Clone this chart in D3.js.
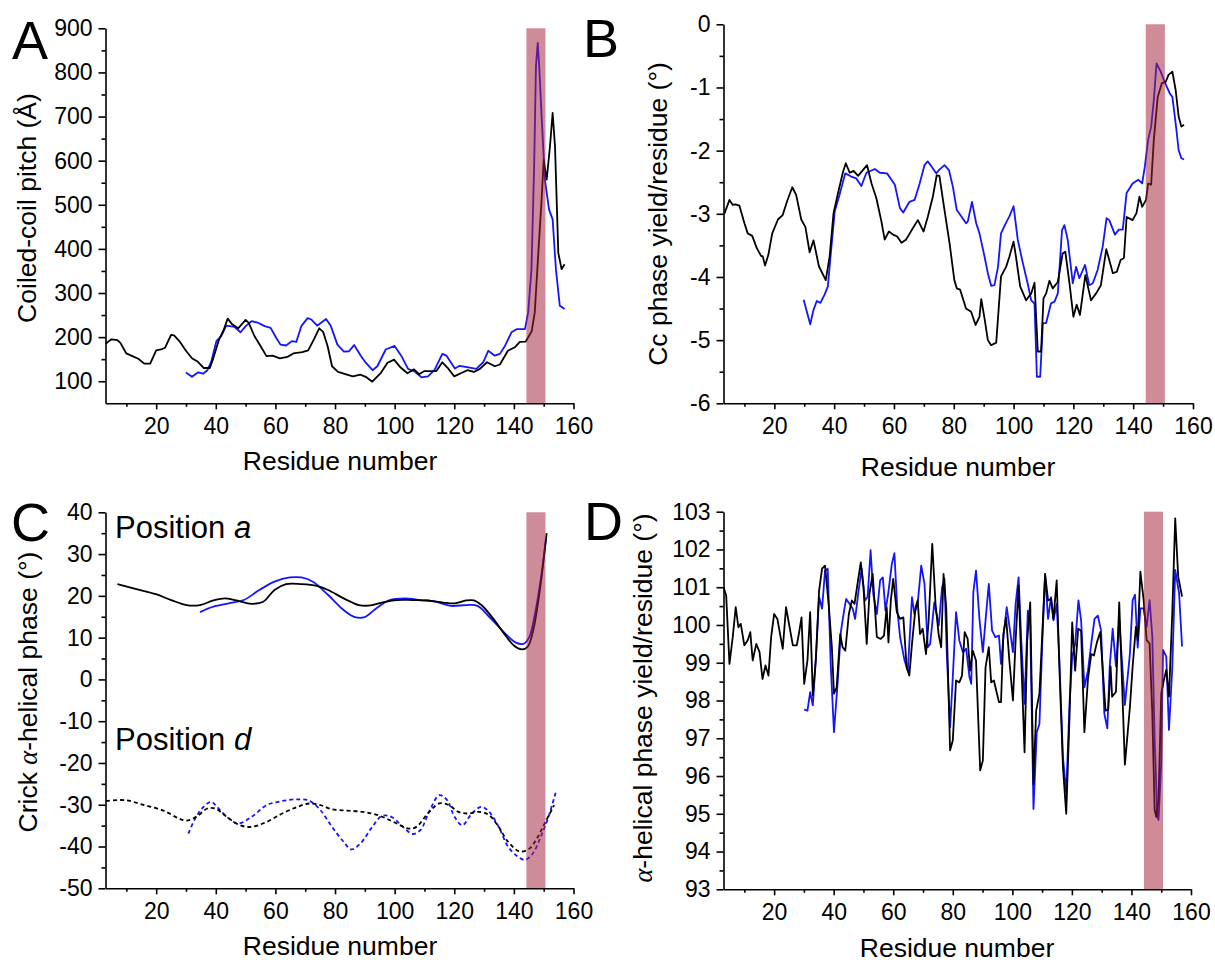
<!DOCTYPE html>
<html>
<head>
	<meta charset="utf-8">
	<style>
		body {
			margin: 0;
			background-color: white;
		}
		svg {
			display: block;
			font-family: "Liberation Sans", Arial, sans-serif;
		}
		.axis path, .axis line {
			stroke: #000;
			stroke-width: 1.6px;
		}
		.axis text {
			font-family: "Liberation Sans", Arial, sans-serif;
			font-size: 23px;
			fill: #000;
		}
		.line {
			fill: none;
			stroke-width: 1.8px;
			stroke-linejoin: round;
		}
		.black { stroke: #000; }
		.blue { stroke: #1414ff; }
		.dashed { stroke-dasharray: 4,3; }
		.band {
			fill: #a3213a;
			opacity: 0.52;
		}
		.title {
			font-size: 26.5px;
			text-anchor: middle;
		}
		.letter {
			font-size: 54px;
		}
		.pos-label {
			font-size: 31px;
		}
		.greek {
			font-family: "Liberation Serif", serif;
			font-style: italic;
		}
	</style>
</head>
<body>
<script src="https://d3js.org/d3.v7.min.js"></script>

<script>
	// shared x axis
	var residueDomain = [3, 160];
	var residueTicks = [20, 40, 60, 80, 100, 120, 140, 160];
	var residueMinor = [10, 30, 50, 70, 90, 110, 130, 150];
	// shaded region (residues)
	var band = [144.2, 150.6];

	// A: coiled-coil pitch
	var pitchTicks = [100, 200, 300, 400, 500, 600, 700, 800, 900];
	var pitchMinor = [150, 250, 350, 450, 550, 650, 750, 850];
	var pitchBlack = [[3,185],[5,195],[7,193],[8,187],[10,163],[12,157],[14,151],[16,140],[18,140],[20,170],[22,173],[23,176],[25,205],[26,204],[28,189],[30,169],[32,152],[34,144],[36,130],[38,130],[39,149],[41,193],[42.5,214],[44,242],[45.5,229],[47.5,220],[50,239],[51,233],[53,202],[55,180],[57,157],[59,158],[61.5,152],[64,155],[66,163],[69,166],[71,170],[73,196],[74.7,220],[76,212],[77.5,180],[79,134],[81,121],[84,115],[86,111],[88.5,115],[90.3,110],[92.5,99],[95.4,119],[97.6,142],[99.8,149],[102,131],[104.3,118],[106.5,127],[108.2,116],[110,123],[114,123],[116,143],[117.7,131],[120,111],[122.2,118],[124.4,125],[126.6,121],[128.6,128],[131,143],[133.6,134],[135.3,138],[138,169],[140.3,177],[142,189],[144,190],[146,214],[147,256],[148.2,391],[149.3,512],[150,602],[151,557],[152.1,632],[153,708],[153.8,632],[154.9,391],[156,354],[157,365]];
	var pitchBlue = [[30,120],[32,110],[34,120],[35.7,117],[37.2,125],[38.5,145],[40.2,191],[41.8,202],[43.5,226],[46.3,223],[48.3,211],[50.2,226],[52,236],[54,233],[56.4,225],[58.4,221],[60.3,198],[61.7,183],[63.6,181],[65.5,191],[67,189],[68.7,225],[70.8,243],[72,240],[74,226],[77,241],[78.6,225],[80.8,183],[83,167],[84.7,168],[86.4,182],[88.7,157],[90.3,142],[92.6,125],[94.2,134],[97,172],[100,180],[102.2,158],[104.5,128],[106.7,122],[109,109],[111.2,111],[113.4,126],[116,162],[117.4,158],[120.2,129],[121.8,135],[125.2,131],[127.4,128],[129.7,143],[131.4,169],[133.6,158],[135.3,162],[137,180],[139.2,211],[140.9,218],[143.7,218],[144.8,256],[145.9,354],[146.8,587],[147.4,813],[148,867],[148.5,813],[149.3,700],[150.4,557],[151.8,489],[153,467],[154.1,354],[155.4,271],[157,264]];

	// B: Cc phase yield per residue
	var ccTicks = [-6, -5, -4, -3, -2, -1, 0];
	var ccMinor = [-5.5, -4.5, -3.5, -2.5, -1.5, -0.5];
	var ccBlack = [[3.3,-3.0],[5,-2.78],[6.1,-2.86],[7,-2.85],[8.3,-2.87],[10,-3.15],[11.1,-3.31],[12.6,-3.35],[14.1,-3.54],[15.6,-3.67],[16.1,-3.67],[16.9,-3.82],[18,-3.65],[19.3,-3.31],[21.2,-3.09],[22.8,-3.02],[24.2,-2.81],[26,-2.58],[27.3,-2.7],[29,-3.09],[30.4,-3.21],[31.8,-3.61],[33.1,-3.42],[34.9,-3.83],[37.2,-4.05],[38.5,-3.67],[39.8,-2.99],[41.3,-2.67],[43,-2.33],[43.9,-2.2],[45.2,-2.35],[46.5,-2.32],[48,-2.4],[49.4,-2.32],[51,-2.23],[52.5,-2.52],[54.1,-2.75],[55.8,-3.12],[56.9,-3.41],[58.3,-3.28],[59.7,-3.33],[61.1,-3.36],[62.5,-3.46],[64,-3.41],[65.3,-3.31],[66.3,-3.23],[68,-3.1],[69.9,-3.28],[71.3,-3.05],[73,-2.73],[74.3,-2.39],[75.2,-2.4],[76.9,-2.94],[78.6,-3.47],[80.2,-4.05],[81,-4.18],[82.1,-4.2],[84.1,-4.5],[85.8,-4.55],[87.3,-4.76],[88.6,-4.63],[89.2,-4.35],[90.3,-4.66],[91.4,-5.0],[92.5,-5.08],[94.2,-5.04],[95.8,-3.99],[97.5,-3.84],[98.6,-3.68],[100,-3.44],[100.8,-3.68],[102.2,-4.15],[104.2,-4.37],[105.9,-4.26],[107,-4.09],[108.1,-5.18],[109.2,-5.18],[110,-4.34],[110.9,-4.26],[112,-4.06],[113.1,-4.18],[114.8,-4.08],[116.4,-3.63],[117.3,-3.6],[118.7,-4.1],[120,-4.63],[121.1,-4.44],[122.2,-4.6],[124,-3.97],[125.9,-4.37],[127.6,-4.26],[129.2,-4.13],[131,-3.56],[133.2,-3.94],[134.5,-3.92],[135.8,-3.73],[136.9,-3.7],[137.8,-3.05],[139.8,-3.1],[141.1,-2.99],[142.1,-2.73],[143,-2.89],[144.3,-2.78],[145,-2.52],[146,-2.54],[146.9,-1.83],[148.2,-1.15],[149.6,-0.93],[150.9,-0.91],[151.8,-0.8],[153.1,-0.75],[154.2,-1.04],[155.2,-1.46],[156.1,-1.62],[157,-1.59]];
	var ccBlue = [[29.8,-4.36],[32,-4.75],[33.1,-4.52],[34.2,-4.38],[35.4,-4.41],[36.8,-4.28],[37.9,-4.15],[39,-3.57],[40.2,-2.96],[41.8,-2.7],[43.7,-2.36],[45.7,-2.41],[47.4,-2.44],[49.1,-2.56],[50.8,-2.35],[53.6,-2.29],[55.3,-2.35],[57.7,-2.36],[60.3,-2.54],[62,-2.91],[63.1,-2.98],[65.2,-2.81],[66.9,-2.78],[68.6,-2.52],[70.2,-2.23],[71.3,-2.17],[72.4,-2.24],[74.1,-2.36],[75.2,-2.3],[76.9,-2.23],[78.4,-2.31],[79.7,-2.57],[81,-2.94],[82.5,-3.04],[84.1,-3.15],[84.7,-3.12],[86.1,-2.81],[87.5,-3.15],[88.6,-3.31],[90.3,-3.68],[91.4,-3.94],[92.5,-4.14],[93.6,-4.13],[94.8,-3.84],[95.8,-3.31],[97.5,-3.14],[98.6,-3.04],[100,-2.88],[101.4,-3.41],[103.1,-3.78],[104.7,-4.1],[105.9,-4.37],[107,-4.42],[107.8,-5.58],[108.9,-5.58],[109.8,-4.73],[110.9,-4.73],[112.5,-4.42],[113.7,-4.39],[114.8,-4.26],[116.2,-3.26],[117,-3.18],[118.1,-3.41],[119.8,-4.1],[120.9,-3.84],[122,-4.02],[123.9,-3.81],[125.3,-4.13],[126.5,-4.1],[128.1,-3.89],[129.8,-3.52],[131.1,-3.07],[132,-3.1],[133.9,-3.33],[135.2,-3.25],[136.5,-3.25],[137.8,-2.67],[139.8,-2.52],[141.7,-2.46],[143,-2.52],[143.9,-2.25],[145,-1.83],[146,-1.62],[146.9,-1.2],[147.8,-0.62],[149.2,-0.75],[150.5,-0.91],[152.2,-1.09],[153.1,-1.15],[154.2,-1.57],[155.2,-1.99],[156.1,-2.12],[157,-2.14]];

	// C: Crick alpha-helical phase, positions a (solid) and d (dashed)
	var crickTicks = [-50, -40, -30, -20, -10, 0, 10, 20, 30, 40];
	var crickMinor = [-45, -35, -25, -15, -5, 5, 15, 25, 35];
	var phaseABlack = [[7,22.8],[13.4,21.6],[19.9,20.4],[25,19.0],[30.2,17.8],[34.7,17.8],[39.2,18.9],[43,19.4],[46.9,18.9],[52,18.1],[55.9,18.6],[59.7,21.4],[63.6,22.8],[68.7,22.8],[73.9,22.4],[77.7,21.4],[82.9,19.4],[88,17.8],[91.9,17.7],[95.7,18.4],[100.8,19.0],[106,19.0],[111.1,18.9],[116.3,18.4],[120.1,18.2],[124,18.9],[126.6,18.9],[129.1,17.8],[133,14.6],[136.8,10.9],[140,8.1],[142.6,7.2],[144.6,7.8],[146.5,11.8],[148.4,19.8],[149.7,27],[151,35]];
	var phaseABlue = [[34.7,16.1],[39.2,17.4],[44.3,18.2],[49.4,19.0],[54.6,21.4],[59.7,23.4],[64.8,24.4],[68.7,24.4],[72.6,23.4],[77.7,20.2],[82.9,16.6],[86.7,14.9],[89.9,14.9],[93.8,17.0],[98.3,19.0],[103.4,19.4],[108.6,19.0],[113.7,18.6],[118.8,17.6],[124,17.8],[127.8,17.6],[131.7,15.0],[136.8,11.2],[140.7,8.8],[143.2,8.5],[145.2,10.2],[147.1,15.8],[149,23.8],[150.7,33.4]];
	var phaseDBlack = [[3.2,-29.1],[9.6,-28.9],[16,-30.1],[22.4,-31.4],[27.6,-33.3],[30.2,-33.8],[33.4,-32.9],[37.2,-30.9],[39.8,-30.9],[43.7,-32.9],[48.1,-34.9],[52,-35.3],[57.1,-34.1],[62.3,-32.1],[67.4,-30.5],[71.3,-29.7],[75.1,-30.1],[79,-31.1],[84.1,-31.4],[89.3,-31.7],[94.4,-32.5],[99.6,-34.1],[104.7,-35.7],[107.3,-35.3],[111.1,-32.1],[115,-29.7],[118.2,-30.1],[121.4,-31.7],[124.6,-32.1],[128.5,-31.7],[131.7,-32.5],[134.9,-35.3],[138.1,-38.9],[142,-41.2],[145.2,-40.5],[147.7,-38.1],[150.3,-34.5],[153.5,-30.1]];
	var phaseDBlue = [[30.8,-36.9],[33.4,-32.9],[35.9,-30.5],[38.5,-29.3],[40.4,-30.5],[43.7,-32.9],[47.5,-34.5],[52,-32.9],[57.1,-30.1],[62.3,-29.1],[67.4,-28.7],[71.3,-29.0],[75.1,-31.3],[79,-35.3],[82.9,-38.9],[85.5,-40.7],[88.6,-39.2],[92.5,-35.3],[95.7,-32.7],[98.9,-32.9],[102.8,-35.3],[106,-37.0],[108.6,-36.1],[111.8,-31.3],[115,-27.7],[117.6,-28.9],[120.1,-32.9],[122.7,-34.9],[125.9,-32.1],[129.1,-30.5],[131.7,-31.7],[134.9,-35.3],[138.1,-40.1],[141.3,-42.4],[143.8,-43.2],[146.4,-41.6],[149,-37.7],[151.6,-32.9],[154.1,-26.9]];

	// D: alpha-helical phase yield per residue
	var helixTicks = [93, 94, 95, 96, 97, 98, 99, 100, 101, 102, 103];
	var helixMinor = [93.5, 94.5, 95.5, 96.5, 97.5, 98.5, 99.5, 100.5, 101.5, 102.5];
	var helixBlack = [[3,101.0],[3.9,100.78],[5,98.97],[6.1,99.68],[7.1,100.47],[8,99.94],[8.8,100.03],[10,99.46],[11.1,99.59],[12,99.81],[12.8,99.06],[14,99.5],[15.1,99.28],[16.1,98.57],[17.1,98.93],[18.1,98.66],[19,99.68],[20,100.29],[21.1,100.16],[22,99.76],[22.9,99.37],[24,100.47],[25,100.03],[26.3,99.46],[27.6,99.46],[28.3,99.76],[29.2,100.2],[30.1,98.44],[31.2,99.06],[32.1,100.34],[33,98.13],[34,99.06],[35.1,100.91],[36.1,101.49],[37.1,101.57],[38.3,100.56],[39.4,99.41],[40.1,98.18],[41,98.35],[42.2,99.76],[43,99.41],[43.9,99.32],[45.1,100.29],[46.1,100.65],[47,100.56],[48,101.09],[49.1,101.66],[50,101.0],[51.1,99.5],[52,100.82],[53.1,101.35],[54.5,99.68],[55.8,99.63],[56.9,99.72],[57.8,100.47],[58.4,99.54],[59.2,100.65],[60,101.22],[61.2,100.34],[62.3,100.16],[63.4,100.2],[64.5,98.88],[65.4,98.66],[66.3,99.5],[67.5,100.47],[68.2,100.65],[69,99.76],[69.9,99.9],[71,99.23],[71.9,100.12],[73.1,102.15],[74.2,100.56],[75.3,99.72],[76.1,99.41],[76.9,101.35],[77.8,100.47],[79.1,96.68],[80,96.94],[81.1,98.53],[82.2,98.48],[83.1,98.66],[84,99.81],[85,99.63],[85.8,98.79],[86.7,99.32],[87.8,99.06],[89.2,96.15],[90.1,96.41],[91,98.88],[92.1,99.41],[92.9,98.48],[93.8,98.53],[94.6,98.26],[95.5,97.96],[96.2,97.96],[97,99.76],[97.9,100.2],[99,99.06],[100.2,98.0],[101.1,99.59],[102.1,101.04],[103,99.06],[104.1,96.63],[105,99.59],[106,100.6],[107.1,95.79],[108,97.73],[109.1,98.18],[110,99.68],[111,101.35],[112,100.65],[113,100.69],[113.8,100.16],[114.9,101.18],[115.8,98.88],[117,96.23],[118.1,95.0],[119.2,97.56],[120.1,100.07],[121.1,98.79],[122.1,99.9],[123.1,99.85],[124.2,97.16],[125.4,98.57],[126.5,99.23],[127.4,99.19],[128.4,99.54],[129.5,99.81],[130.4,98.79],[131.3,97.73],[132.2,97.75],[133,98.9],[133.5,98.1],[134.8,98.23],[135.9,100.6],[137.8,96.3],[139.5,97.84],[140.4,98.9],[141.5,99.95],[142.1,99.6],[143,101.41],[144.1,100.66],[145.1,99.6],[146.1,99.51],[147,97.66],[147.8,95.1],[148.3,94.92],[149.1,95.37],[150,98.19],[150.9,98.54],[151.7,98.81],[152.6,98.1],[153.7,100.3],[154.7,102.82],[155.7,101.28],[157,100.75]];
	var helixBlue = [[30.1,97.76],[31.2,97.73],[32.1,98.22],[33,97.87],[34.1,99.23],[35.1,100.74],[36.1,100.43],[37.1,101.44],[38,101.49],[39,98.97],[40.1,97.16],[41.3,98.44],[42.4,99.81],[43.5,100.38],[44.2,100.69],[45.3,100.56],[46.4,100.43],[47.2,100.16],[48.3,100.87],[49.4,101.49],[50.5,100.65],[51.4,100.74],[52.4,101.98],[53.3,100.82],[54.5,100.29],[55.6,101.18],[56.5,101.26],[57.4,100.38],[58.3,100.82],[59.5,101.6],[60.4,101.9],[61.4,100.38],[62.3,99.68],[63.8,99.06],[64.9,98.79],[66.3,100.74],[67.1,100.29],[68.2,100.56],[69.4,101.57],[70.5,101.09],[71.6,99.41],[72.4,99.5],[73.8,100.6],[75.3,99.99],[76.4,101.0],[77.2,101.22],[78,99.23],[79.1,97.29],[80,98.62],[81.1,100.34],[82.2,99.59],[83.4,99.28],[84.5,99.37],[85.6,98.62],[86.2,98.44],[86.9,100.87],[87.8,101.44],[89,100.12],[90.1,99.28],[91,100.12],[92.1,101.09],[93.2,99.85],[94.3,99.68],[95.5,99.72],[96.2,98.97],[97.1,99.76],[98.1,100.47],[99.3,99.81],[100.2,99.28],[101.1,100.56],[102.1,101.26],[103,99.59],[104.1,97.91],[105.2,100.38],[106,100.03],[107.1,95.13],[108.2,97.16],[109.1,97.38],[110,99.41],[111,101.35],[112,100.16],[113,100.74],[113.8,100.12],[114.9,100.56],[115.8,99.06],[117,96.5],[118.1,95.53],[119.2,97.91],[120.1,99.15],[121.1,99.5],[122.2,100.65],[123.1,100.12],[124.2,98.35],[125.4,98.79],[126.5,99.5],[127.6,100.16],[128.7,100.25],[129.8,99.85],[130.9,97.65],[131.9,97.26],[132.7,98.9],[133.7,99.9],[134.8,98.9],[135.9,100.13],[137.8,97.88],[139.5,99.25],[140.4,100.66],[141.2,100.8],[142.1,99.4],[143,100.44],[144.1,100.44],[145.1,99.95],[146.1,100.66],[147,99.7],[147.8,96.95],[148.7,94.92],[149.1,94.84],[150,96.34],[150.6,99.34],[151.7,99.16],[152.6,97.22],[153.7,98.85],[154.7,101.46],[156,100.84],[157,99.43]];

	var svg = d3.select("body").append("svg")
		.attr("width", 1215)
		.attr("height", 963);

	var panels = [
		{letter: "A", lx: 12, ly: 59, left: 105.5, right: 573.5, top: 28.3, bottom: 403.3,
			yDomain: [50, 900], yTicks: pitchTicks, yMinor: pitchMinor, curve: d3.curveLinear,
			series: [{data: pitchBlue, cls: "blue"}, {data: pitchBlack, cls: "black"}],
			xTitle: [340, 470], yTitle: [36, 208], yText: [["Coiled-coil pitch (Å)", false]]},
		{letter: "B", lx: 583, ly: 57, left: 723.5, right: 1193, top: 24.3, bottom: 403.3,
			yDomain: [-6, 0], yTicks: ccTicks, yMinor: ccMinor, curve: d3.curveLinear,
			series: [{data: ccBlue, cls: "blue"}, {data: ccBlack, cls: "black"}],
			xTitle: [958, 476], yTitle: [667, 214], yText: [["Cc phase yield/residue (°)", false]]},
		{letter: "C", lx: 11, ly: 541, left: 105.5, right: 573.5, top: 512.3, bottom: 888.3,
			yDomain: [-50, 40], yTicks: crickTicks, yMinor: crickMinor, curve: d3.curveCatmullRom,
			series: [{data: phaseABlue, cls: "blue"}, {data: phaseABlack, cls: "black"},
				{data: phaseDBlue, cls: "blue dashed"}, {data: phaseDBlack, cls: "black dashed"}],
			xTitle: [340, 955], yTitle: [37, 692], yText: [["Crick ", false], ["α", true], ["-helical phase (°)", false]]},
		{letter: "D", lx: 584, ly: 540, left: 723.5, right: 1191, top: 511.7, bottom: 889.3,
			yDomain: [93, 103], yTicks: helixTicks, yMinor: helixMinor, curve: d3.curveLinear,
			series: [{data: helixBlue, cls: "blue"}, {data: helixBlack, cls: "black"}],
			xTitle: [957, 957], yTitle: [652, 698], yText: [["α", true], ["-helical phase yield/residue (°)", false]]}
	];

	panels.forEach(drawPanel);

	// position labels in panel C
	svg.append("text")
			.attr("class", "pos-label")
			.attr("x", 115)
			.attr("y", 538)
			.text("Position ")
		.append("tspan")
			.attr("font-style", "italic")
			.text("a");
	svg.append("text")
			.attr("class", "pos-label")
			.attr("x", 115)
			.attr("y", 750)
			.text("Position ")
		.append("tspan")
			.attr("font-style", "italic")
			.text("d");

	function drawPanel(p) {
		var x = d3.scaleLinear()
			.domain(residueDomain)
			.range([p.left, p.right]);
		var y = d3.scaleLinear()
			.domain(p.yDomain)
			.range([p.bottom, p.top]);
		var g = svg.append("g");

		var line = d3.line()
			.curve(p.curve)
			.x(function(d) { return x(d[0]); })
			.y(function(d) { return y(d[1]); });

		p.series.forEach(function(s) {
			g.append("path")
				.datum(s.data)
				.attr("class", "line " + s.cls)
				.attr("d", line);
		});

		// translucent band sits over the lines
		g.append("rect")
			.attr("class", "band")
			.attr("x", x(band[0]))
			.attr("width", x(band[1]) - x(band[0]))
			.attr("y", y(p.yDomain[1]))
			.attr("height", y(p.yDomain[0]) - y(p.yDomain[1]));

		// minor ticks
		g.append("g")
			.attr("class", "axis")
			.attr("transform", "translate(0," + p.bottom + ")")
			.call(d3.axisBottom(x).tickValues(residueMinor).tickSize(3.5).tickFormat(""))
			.call(function(a) { a.select(".domain").remove(); });
		g.append("g")
			.attr("class", "axis")
			.attr("transform", "translate(" + p.left + ",0)")
			.call(d3.axisLeft(y).tickValues(p.yMinor).tickSize(4).tickFormat(""))
			.call(function(a) { a.select(".domain").remove(); });

		// major ticks
		g.append("g")
			.attr("class", "axis")
			.attr("transform", "translate(0," + p.bottom + ")")
			.call(d3.axisBottom(x).tickValues(residueTicks).tickSize(6).tickSizeOuter(0).tickPadding(8)
				.tickFormat(function(d) { return String(d); }));
		g.append("g")
			.attr("class", "axis")
			.attr("transform", "translate(" + p.left + ",0)")
			.call(d3.axisLeft(y).tickValues(p.yTicks).tickSize(7).tickSizeOuter(0).tickPadding(6)
				.tickFormat(function(d) { return String(d); }));

		// titles
		g.append("text")
			.attr("class", "title")
			.attr("x", p.xTitle[0])
			.attr("y", p.xTitle[1])
			.text("Residue number");
		var yt = g.append("text")
			.attr("class", "title")
			.attr("transform", "translate(" + p.yTitle[0] + "," + p.yTitle[1] + ") rotate(-90)");
		p.yText.forEach(function(t) {
			yt.append("tspan")
				.attr("class", t[1] ? "greek" : null)
				.text(t[0]);
		});

		g.append("text")
			.attr("class", "letter")
			.attr("x", p.lx)
			.attr("y", p.ly)
			.text(p.letter);
	}
</script>
</body>
</html>
